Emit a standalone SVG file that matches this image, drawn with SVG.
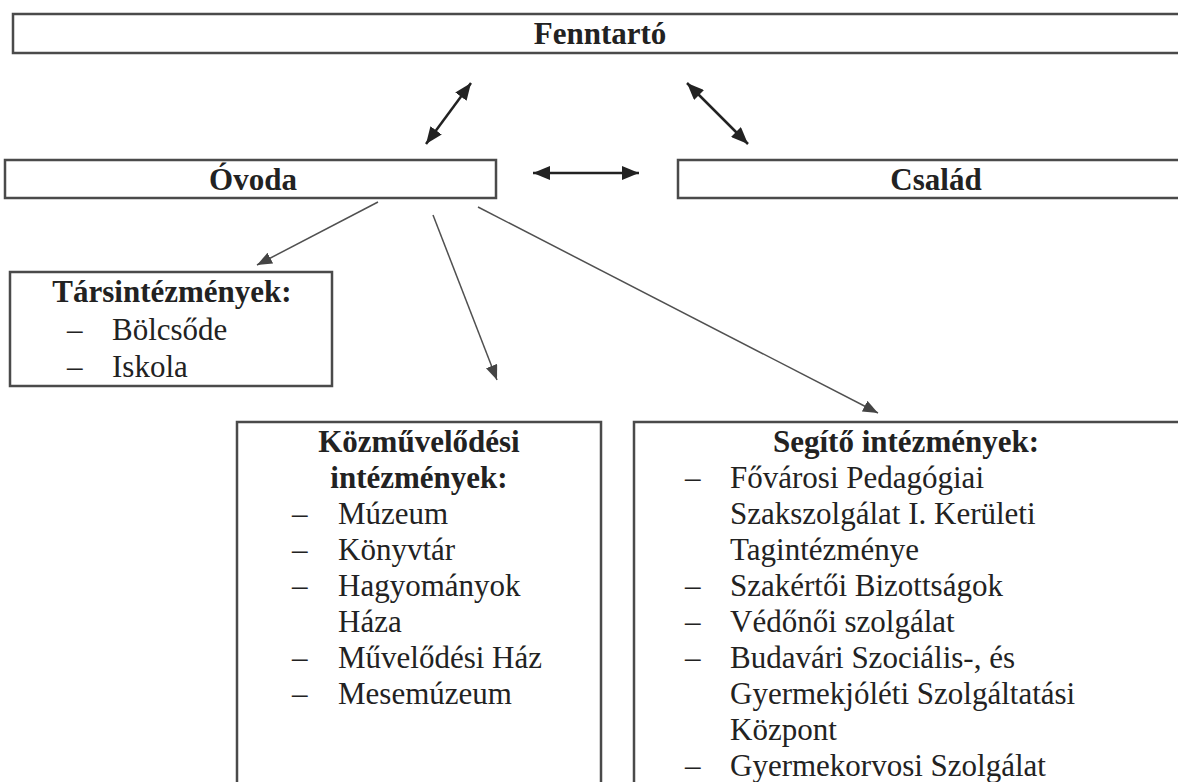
<svg xmlns="http://www.w3.org/2000/svg" width="1178" height="782" viewBox="0 0 1178 782">
<style>
.box{fill:#fff;stroke:#4a4a4a;stroke-width:2.5}
.t{font-family:"Liberation Serif","Times New Roman",serif;font-size:31px;fill:#222}
.b{font-weight:bold}
.c{text-anchor:middle}
.big{stroke:#222;stroke-width:2.5;fill:none}
.sm{stroke:#505050;stroke-width:1.5;fill:none}
</style>
<defs>
<marker id="hb" markerUnits="userSpaceOnUse" markerWidth="17" markerHeight="14" refX="17" refY="7" orient="auto-start-reverse"><path d="M0,0 L17,7 L0,14 z" fill="#222"/></marker>
<marker id="hs" markerUnits="userSpaceOnUse" markerWidth="15" markerHeight="12" refX="15" refY="6" orient="auto"><path d="M0,0 L15,6 L0,12 z" fill="#444"/></marker>
</defs>
<rect width="1178" height="782" fill="#fff"/>
<g id="fenntarto">
<rect class="box" x="13" y="14" width="1180" height="39"/>
<text class="t b c" x="600" y="44">Fenntartó</text>
</g>
<g id="ovoda">
<rect class="box" x="5" y="160" width="491" height="38"/>
<text class="t b c" x="253" y="190">Óvoda</text>
</g>
<g id="csalad">
<rect class="box" x="678" y="160" width="520" height="38"/>
<text class="t b c" x="936" y="190">Család</text>
</g>
<g id="tarsintezmenyek">
<rect class="box" x="10" y="272" width="322" height="114"/>
<text class="t b c" x="172" y="302">Társintézmények:</text>
<text class="t" x="67" y="340">–</text><text class="t" x="112" y="340">Bölcsőde</text>
<text class="t" x="67" y="377">–</text><text class="t" x="112" y="377">Iskola</text>
</g>
<g id="kozmuvelodesi">
<rect class="box" x="237" y="422" width="364" height="400"/>
<text class="t b c" x="419" y="452">Közművelődési</text>
<text class="t b c" x="419" y="488">intézmények:</text>
<text class="t" x="292" y="524">–</text><text class="t" x="338" y="524">Múzeum</text>
<text class="t" x="292" y="560">–</text><text class="t" x="338" y="560">Könyvtár</text>
<text class="t" x="292" y="596">–</text><text class="t" x="338" y="596">Hagyományok</text>
<text class="t" x="338" y="632">Háza</text>
<text class="t" x="292" y="668">–</text><text class="t" x="338" y="668">Művelődési Ház</text>
<text class="t" x="292" y="704">–</text><text class="t" x="338" y="704">Mesemúzeum</text>
</g>
<g id="segito">
<rect class="box" x="634" y="422" width="600" height="400"/>
<text class="t b" x="773" y="452">Segítő intézmények:</text>
<text class="t" x="685" y="488">–</text><text class="t" x="730" y="488">Fővárosi Pedagógiai</text>
<text class="t" x="730" y="524">Szakszolgálat I. Kerületi</text>
<text class="t" x="730" y="560">Tagintézménye</text>
<text class="t" x="685" y="596">–</text><text class="t" x="730" y="596">Szakértői Bizottságok</text>
<text class="t" x="685" y="632">–</text><text class="t" x="730" y="632">Védőnői szolgálat</text>
<text class="t" x="685" y="668">–</text><text class="t" x="730" y="668">Budavári Szociális-, és</text>
<text class="t" x="730" y="704">Gyermekjóléti Szolgáltatási</text>
<text class="t" x="730" y="740">Központ</text>
<text class="t" x="685" y="776">–</text><text class="t" x="730" y="776">Gyermekorvosi Szolgálat</text>
</g>
<g id="connectors">
<line class="big" x1="426" y1="144" x2="471" y2="83" marker-start="url(#hb)" marker-end="url(#hb)"/>
<line class="big" x1="748" y1="144" x2="687" y2="83" marker-start="url(#hb)" marker-end="url(#hb)"/>
<line class="big" x1="533" y1="173" x2="639" y2="173" marker-start="url(#hb)" marker-end="url(#hb)"/>
<line class="sm" x1="378" y1="202" x2="257" y2="265" marker-end="url(#hs)"/>
<line class="sm" x1="433" y1="215" x2="497" y2="380" marker-end="url(#hs)"/>
<line class="sm" x1="478" y1="207" x2="878" y2="413" marker-end="url(#hs)"/>
</g>
</svg>
